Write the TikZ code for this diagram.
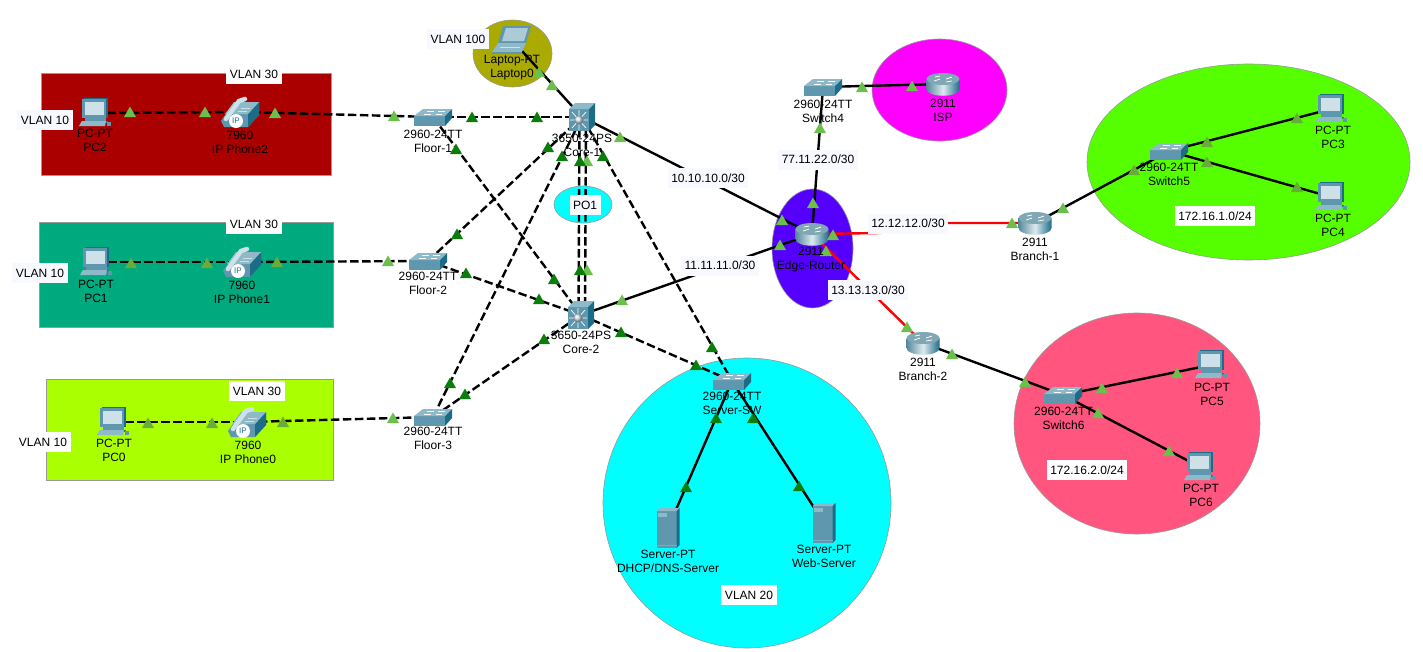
\documentclass[tikz,border=0pt]{standalone}
\usepackage{fontspec}
\setmainfont{Liberation Sans}
\definecolor{tL}{HTML}{6BC04B}
\definecolor{tD}{HTML}{0B7D0B}
\definecolor{tM}{HTML}{68AC3C}
\definecolor{iTop}{HTML}{8DB9C8}
\definecolor{iFront}{HTML}{5F97AE}
\definecolor{iSide}{HTML}{1C6C88}
\definecolor{iScreen}{HTML}{CFE1E8}
\definecolor{boxfill}{HTML}{F7F9FF}
\definecolor{zRed}{RGB}{170,0,0}
\definecolor{zTeal}{RGB}{0,170,127}
\definecolor{zYel}{RGB}{170,255,0}
\definecolor{zOlive}{RGB}{170,170,0}
\definecolor{zCyan}{RGB}{0,255,255}
\definecolor{zMag}{RGB}{255,0,255}
\definecolor{zBlue}{RGB}{85,0,255}
\definecolor{zLime}{RGB}{85,255,0}
\definecolor{zPink}{RGB}{255,85,127}
\definecolor{zWireRed}{RGB}{255,0,0}
\tikzset{
  dot/.style={shape=coordinate},
  wire/.style={line width=2.4pt,black},
  dashwire/.style={wire,dash pattern=on 8.5pt off 3.5pt},
  redwire/.style={line width=2.4pt,zWireRed},
  zone/.style={draw=black!40,line width=0.6pt},
  dev/.style={align=center,inner sep=0pt,font=\fontsize{12}{14}\selectfont},
  tag/.style={fill=boxfill,inner xsep=3.5pt,inner ysep=0pt,minimum height=20pt,font=\fontsize{12}{14}\selectfont},
  pics/switchicon/.style={code={
    \fill[iFront] (-19,-1) rectangle (12,9);
    \fill[iTop] (-19,-1) -- (-10,-8) -- (19,-8) -- (12,-1) -- cycle;
    \fill[iSide] (12,-1) -- (19,-8) -- (19,1) -- (12,9) -- cycle;
    \draw[white,line width=0.6pt] (-9,-3) -- (-2,-3) (-6,-6) -- (1,-6) (3,-3) -- (9,-3) (5,-6) -- (12,-6);
  }},
  pics/routericon/.style={code={
    \shade[left color=iFront!90!black,right color=iSide,middle color=iScreen!70!white] (-16.5,-5) -- (-16.5,5) .. controls (-16.5,14) and (16.5,14) .. (16.5,5) -- (16.5,-5) -- cycle;
    \fill[iTop!90!black] (0,-5) ellipse[x radius=16.5,y radius=6];
    \draw[white,line width=0.8pt] (-9,-3) -- (-3,-5) (3,-5) -- (9,-7) (-8,-7) -- (-3,-8) (3,-2) -- (9,-3);
  }},
  pics/coreicon/.style={code={
    \fill[iFront] (-13,-8) rectangle (7,14);
    \fill[iTop] (-13,-8) -- (-7,-14) -- (13,-14) -- (7,-8) -- cycle;
    \fill[iSide] (7,-8) -- (13,-14) -- (13,8) -- (7,14) -- cycle;
    \draw[white,line width=0.7pt] (-12,3) -- (6,3) (-3,-7) -- (-3,13) (-10,-5) -- (4,11) (4,-5) -- (-10,11);
    \shade[ball color=iScreen] (-3,3) circle[radius=4.5];
  }},
  pics/pcicon/.style={code={
    \fill[iSide] (-11,-15) -- (13,-15) -- (13,5) -- (-11,5) -- cycle;
    \fill[iFront] (-13,-14) rectangle (11,5);
    \fill[iScreen] (-10,-11) rectangle (9,2);
    \fill[iFront] (-10,5) rectangle (11,8);
    \fill[iFront!70!black] (-13,8) -- (13,8) -- (13,10) -- (-13,10) -- cycle;
    \fill[iTop] (-15,11) -- (-13,8) -- (11,8) -- (10,13) -- (-16,13) -- cycle;
    \fill[iFront] (12,9) rectangle (16,13);
  }},
  pics/phoneicon/.style={code={
    \fill[iFront] (-19,9) -- (-6,-10) -- (19,-10) -- (19,3) -- (8,15) -- (-16,15) -- cycle;
    \fill[iSide] (8,2) -- (19,-10) -- (19,3) -- (8,15) -- cycle;
    \fill[iTop] (-6,-10) -- (19,-10) -- (8,2) -- (-15,2) -- cycle;
    \draw[iScreen,line width=4.5pt,line cap=round] (-14,7) -- (-1,-11) -- (5,-13);
    \draw[white!70!iFront,line width=0.7pt] (1,-4) -- (10,-4) (-2,-1) -- (7,-1);
    \node[circle,fill=white,inner sep=0pt,minimum size=14pt,font=\fontsize{8}{8}\selectfont,text=iSide] (ip) at (-4,9) {IP};
  }},
  pics/servericon/.style={code={
    \fill[iFront] (-11.5,-17) rectangle (8.5,20);
    \fill[iTop] (-11.5,-17) -- (-8.5,-20) -- (11.5,-20) -- (8.5,-17) -- cycle;
    \fill[iSide] (8.5,-17) -- (11.5,-20) -- (11.5,17) -- (8.5,20) -- cycle;
    \fill[iTop] (-10,-15) rectangle (-1,-11);
    \fill[iTop!60!iFront] (-11.5,17) rectangle (8.5,18);
  }},
  pics/laptopicon/.style={code={
    \fill[iFront] (-9,-14) -- (19,-14) -- (14,3) -- (-14,3) -- cycle;
    \fill[iScreen!70!iFront] (-6,-12) -- (16,-12) -- (12,1) -- (-10,1) -- cycle;
    \fill[iTop] (-14,3) -- (14,3) -- (10,12) -- (-20,12) -- cycle;
    \fill[iFront] (-20,12) rectangle (10,14);
    \draw[white!70!iFront,line width=0.7pt] (-12,7) -- (8,7);
  }},
}
\begin{document}
\begin{tikzpicture}[x=1pt,y=-1pt]
\useasboundingbox (0,0) rectangle (1423,651);
\fill[white] (0,0) rectangle (1423,651);
% zones
\draw[zone,fill=zRed] (41,73) rectangle (331,175);
\draw[zone,fill=zTeal] (39,222) rectangle (333,327);
\draw[zone,fill=zYel] (46,379) rectangle (333,480);
\draw[zone,fill=zOlive] (512.5,53.5) ellipse[x radius=39.5,y radius=33.5];
\draw[zone,fill=zCyan] (583,204.5) ellipse[x radius=29,y radius=18.5];
\draw[zone,fill=zMag] (939.5,90) ellipse[x radius=67.5,y radius=51];
\draw[zone,fill=zBlue] (812.5,248.5) ellipse[x radius=40.5,y radius=59.5];
\draw[zone,fill=zLime] (1248.5,162) ellipse[x radius=161.5,y radius=98];
\draw[zone,fill=zPink] (1137,423.5) ellipse[x radius=123,y radius=110.5];
\draw[zone,fill=zCyan] (747,503) ellipse[x radius=144,y radius=145];
% device anchors
\node[dot] (pc2) at (95,113) {};
\node[dot] (ph2) at (240,112) {};
\node[dot] (fl1) at (433,117) {};
\node[dot] (core1) at (582,117) {};
\node[dot] (lap) at (512,40) {};
\node[dot] (pc1) at (96,262) {};
\node[dot] (ph1) at (242,262) {};
\node[dot] (fl2) at (428,261) {};
\node[dot] (core2) at (581,315) {};
\node[dot] (pc0) at (113,422) {};
\node[dot] (ph0) at (247,422) {};
\node[dot] (fl3) at (433,417) {};
\node[dot] (srvsw) at (732,381) {};
\node[dot] (dhcp) at (668,528) {};
\node[dot] (web) at (824,523) {};
\node[dot] (edge) at (812,234) {};
\node[dot] (sw4) at (823,87) {};
\node[dot] (isp) at (943,84) {};
\node[dot] (br1) at (1035,223) {};
\node[dot] (br2) at (923,343) {};
\node[dot] (sw5) at (1169,151) {};
\node[dot] (pc3) at (1331,109) {};
\node[dot] (pc4) at (1331,197) {};
\node[dot] (sw6) at (1063,395) {};
\node[dot] (pc5) at (1211,365) {};
\node[dot] (pc6) at (1200,467) {};
\coordinate (bendA) at (880,233);
\coordinate (bendB) at (940,223);
% dashed links
\draw[dashwire] (pc2) -- (ph2);
\draw[dashwire] (ph2) -- (fl1);
\draw[dashwire] (pc1) -- (ph1);
\draw[dashwire] (ph1) -- (fl2);
\draw[dashwire] (pc0) -- (ph0);
\draw[dashwire] (ph0) -- (fl3);
\draw[dashwire] (fl1) -- (core1);
\draw[dashwire] (fl1) -- (core2);
\draw[dashwire] (fl2) -- (core1);
\draw[dashwire] (fl2) -- (core2);
\draw[dashwire] (fl3) -- (core1);
\draw[dashwire] (fl3) -- (core2);
\draw[dashwire] (core1) -- (srvsw);
\draw[dashwire] (core2) -- (srvsw);
\draw[dashwire] ([xshift=-2.5pt]core1.center) -- ([xshift=-2.5pt]core2.center);
\draw[dashwire] ([xshift=4pt]core1.center) -- ([xshift=4pt]core2.center);
% solid links
\draw[wire] (lap) -- (core1);
\draw[wire] (core1) -- (edge);
\draw[wire] (core2) -- (edge);
\draw[wire] (edge) -- (sw4);
\draw[wire] (sw4) -- (isp);
\draw[wire] (srvsw) -- (dhcp);
\draw[wire] (srvsw) -- (web);
\draw[wire] (br1) -- (sw5);
\draw[wire] (sw5) -- (pc3);
\draw[wire] (sw5) -- (pc4);
\draw[wire] (br2) -- (sw6);
\draw[wire] (sw6) -- (pc5);
\draw[wire] (sw6) -- (pc6);
\draw[redwire] (edge) -- (bendA) -- (bendB) -- (br1);
\draw[redwire] (edge) -- (br2);
% icons
\foreach \d in {pc2,pc1,pc0,pc3,pc4,pc5,pc6} \pic at (\d) {pcicon};
\pic (a) at (ph2) {phoneicon};
\pic (b) at (ph1) {phoneicon};
\pic (c) at (ph0) {phoneicon};
\foreach \d in {fl1,fl2,fl3,srvsw,sw4,sw5,sw6} \pic at (\d) {switchicon};
\foreach \d in {core1,core2} \pic at (\d) {coreicon};
\foreach \d in {edge,isp,br1,br2} \pic at (\d) {routericon};
\foreach \d in {dhcp,web} \pic at (\d) {servericon};
\pic at (lap) {laptopicon};
% link-state triangles
\foreach \x/\y in {130/112,205/112,275/113,394/116,539/72,552/85,620/137,587/161,587/270,622/300,388/261,393/418,813/203,782/220,780/245,833/235,826/251,1012/223,907/327,952/354,1025/382,820/128,862/87,912/86,1063/208,1102/388,1098/413,1177/373,1169/451}
  \fill[tL] (\x,\y) +(-6,5) -- +(6,5) -- +(0,-5.5) -- cycle;
\foreach \x/\y in {472/117,537/117,548/147,562/156,580/161,603/156,456/149,457/234,466/273,539/299,554/279,580/270,621/332,544/339,465/394,450/383,712/347,696/365,716/418,753/418,686/487,799/486}
  \fill[tD] (\x,\y) +(-6,5) -- +(6,5) -- +(0,-5.5) -- cycle;
\foreach \x/\y in {131/263,207/263,277/262,148/423,212/423,283/422,1134/170,1207/142,1207/162,1297/118,1297/187}
  \fill[tM] (\x,\y) +(-6,5) -- +(6,5) -- +(0,-5.5) -- cycle;
% device labels
\node[dev] (pc2t) at (95,140) {PC-PT\\PC2};
\node[dev] (ph2t) at (240,142) {7960\\IP Phone2};
\node[dev] (fl1t) at (433,141) {2960-24TT\\Floor-1};
\node[dev] (core1t) at (582,145) {3650-24PS\\Core-1};
\node[dev] (lapt) at (512,67.5) {Laptop-PT\\Laptop0};
\node[dev] (pc1t) at (96,291) {PC-PT\\PC1};
\node[dev] (ph1t) at (242,292.5) {7960\\IP Phone1};
\node[dev] (fl2t) at (428,283.5) {2960-24TT\\Floor-2};
\node[dev] (core2t) at (581,342) {3650-24PS\\Core-2};
\node[dev] (pc0t) at (114,450.5) {PC-PT\\PC0};
\node[dev] (ph0t) at (248,452.5) {7960\\IP Phone0};
\node[dev] (fl3t) at (433,438.5) {2960-24TT\\Floor-3};
\node[dev] (srvswt) at (732,403) {2960-24TT\\Server-SW};
\node[dev] (dhcpt) at (668,561) {Server-PT\\DHCP/DNS-Server};
\node[dev] (webt) at (824,556) {Server-PT\\Web-Server};
\node[dev] (edget) at (811,260) {2911\\Edge-Router};
\node[dev] (sw4t) at (823,111) {2960-24TT\\Switch4};
\node[dev] (ispt) at (943,110) {2911\\ISP};
\node[dev] (br1t) at (1035,249) {2911\\Branch-1};
\node[dev] (br2t) at (923,369) {2911\\Branch-2};
\node[dev] (sw5t) at (1169,174) {2960-24TT\\Switch5};
\node[dev] (pc3t) at (1333,137) {PC-PT\\PC3};
\node[dev] (pc4t) at (1333,225) {PC-PT\\PC4};
\node[dev] (sw6t) at (1063.5,418) {2960-24TT\\Switch6};
\node[dev] (pc5t) at (1212,394) {PC-PT\\PC5};
\node[dev] (pc6t) at (1201,495) {PC-PT\\PC6};
% boxed tags
\node[tag] (v100) at (458,39) {VLAN 100};
\node[tag] (po1) at (585,205) {PO1};
\node[tag] (t1010) at (708,178) {10.10.10.0/30};
\node[tag] (t1111) at (720,265.5) {11.11.11.0/30};
\node[tag] (t1212) at (908,223.5) {12.12.12.0/30};
\node[tag] (t1313) at (868,290) {13.13.13.0/30};
\node[tag] (t7711) at (818,159.5) {77.11.22.0/30};
\node[tag,fill=white] (net1) at (1215,216) {172.16.1.0/24};
\node[tag,fill=white] (net2) at (1087,470) {172.16.2.0/24};
\node[tag,fill=white] (v30a) at (254,74) {VLAN 30};
\node[tag,fill=white] (v30b) at (254,224) {VLAN 30};
\node[tag,fill=white] (v30c) at (257,391) {VLAN 30};
\node[tag] (v10a) at (45,120) {VLAN 10};
\node[tag] (v10b) at (40,273) {VLAN 10};
\node[tag,fill=white] (v10c) at (43,442) {VLAN 10};
\node[tag,fill=white] (v20) at (749,595) {VLAN 20};
\end{tikzpicture}
\end{document}
